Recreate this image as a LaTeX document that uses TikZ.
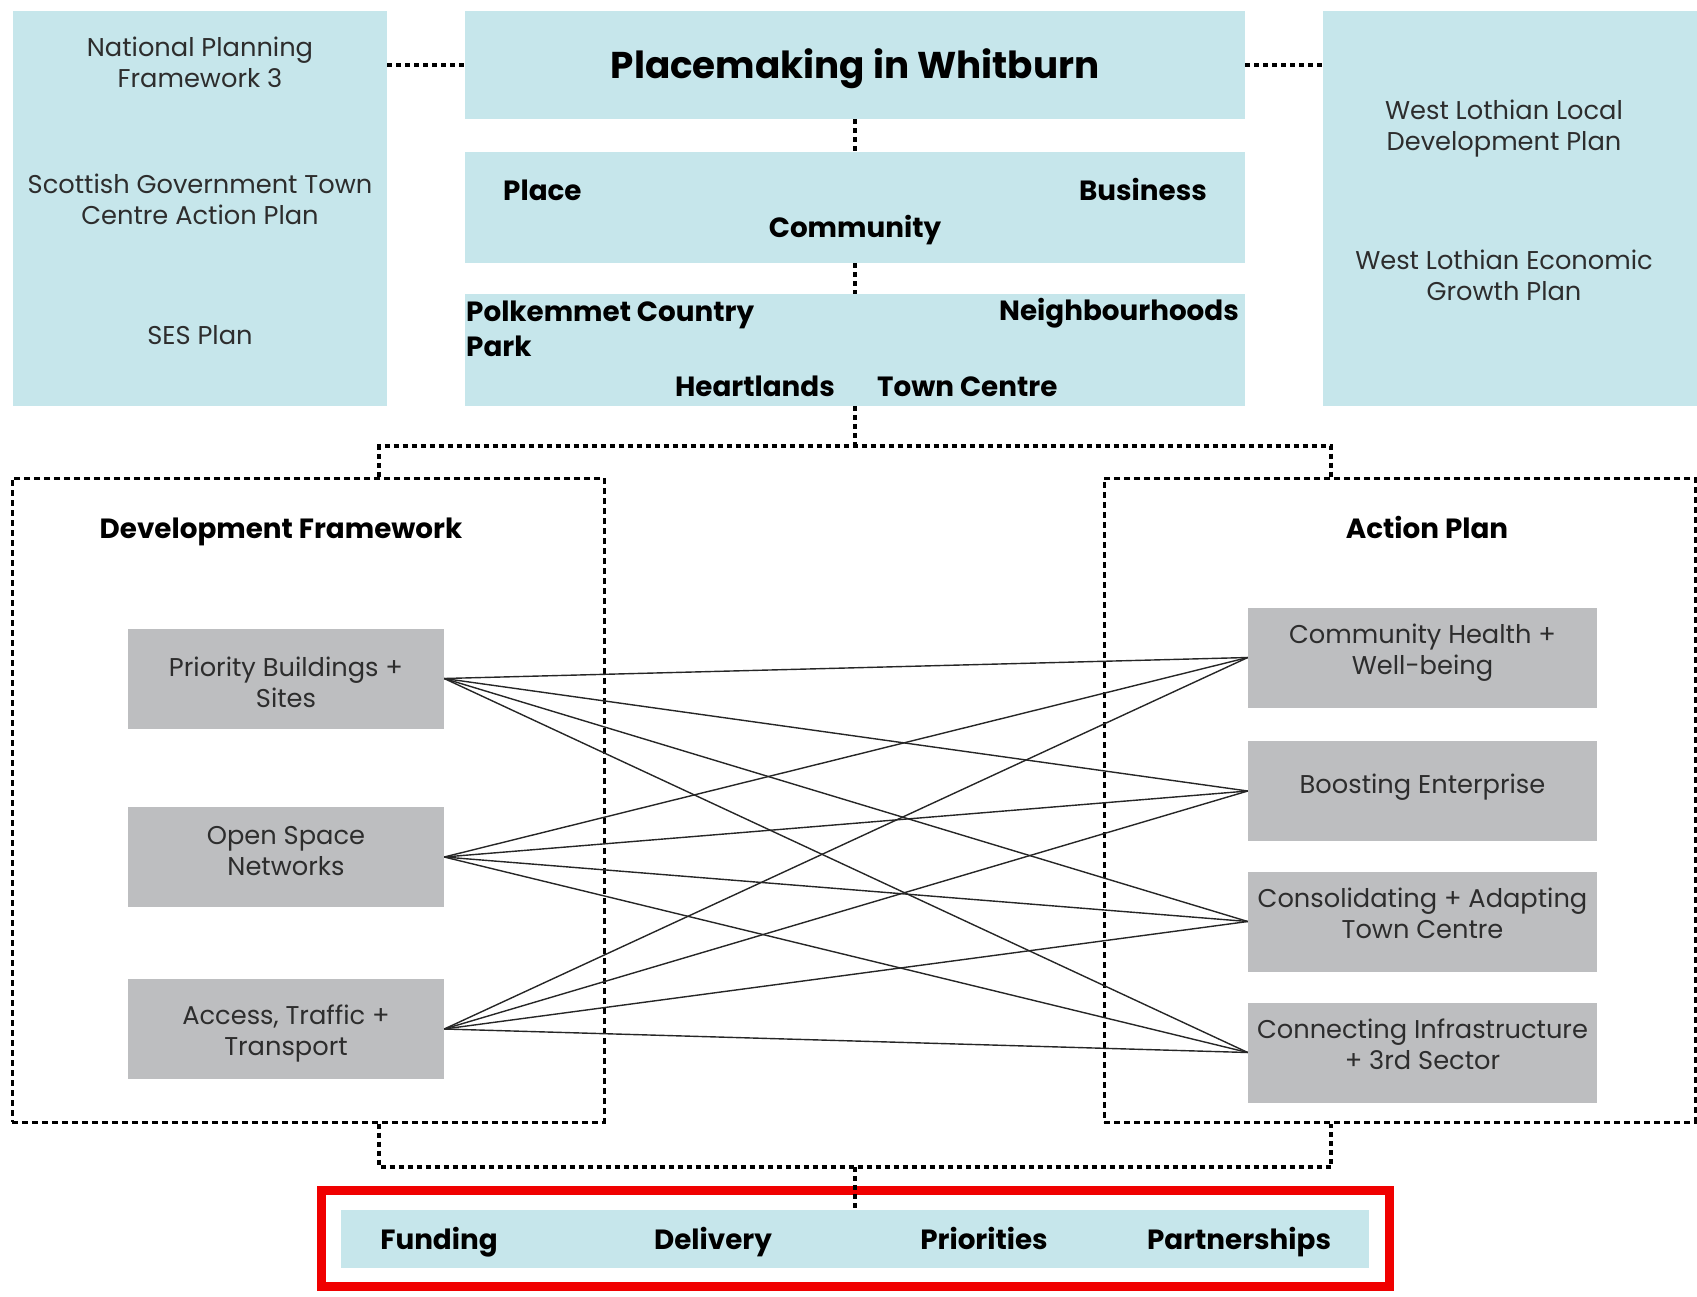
\documentclass[tikz,border=0pt]{standalone}
\usepackage{fontspec}
\setmainfont{Poppins}
\definecolor{pblue}{RGB}{198,230,235}
\definecolor{pgray}{RGB}{189,190,192}
\definecolor{txtgray}{RGB}{45,45,45}
\definecolor{pred}{RGB}{240,0,0}
\begin{document}
\begin{tikzpicture}[x=1pt,y=-1pt,
  bluebox/.style={fill=pblue, draw=none, inner sep=0pt},
  graybox/.style={fill=pgray, draw=none, inner sep=0pt, minimum width=316pt, minimum height=100pt},
  rgraybox/.style={graybox, minimum width=349pt},
  bodytxt/.style={align=center, text=txtgray, font=\fontsize{25.7}{31}\selectfont, inner sep=0pt},
  boldtxt/.style={text=black, font=\fontsize{27.8}{35}\selectfont\bfseries, inner sep=0pt, align=left, text height=20pt, text depth=6pt},
  frame/.style={draw=black, line width=3pt, dash pattern=on 6pt off 4pt, inner sep=0pt},
  conn/.style={draw=black, line width=3.2pt, dash pattern=on 5pt off 4pt},
  link/.style={draw=black!85, line width=1.4pt}
]
\useasboundingbox (0,0) rectangle (1697,1296);
% top blue boxes
\node[bluebox, minimum width=374pt, minimum height=395pt] (lbox) at (200,208.5) {};
\node[bluebox, minimum width=780pt, minimum height=108pt] (title) at (855,65) {};
\node[bluebox, minimum width=780pt, minimum height=111pt] (mid) at (855,207.5) {};
\node[bluebox, minimum width=780pt, minimum height=112pt] (low) at (855,350) {};
\node[bluebox, minimum width=374pt, minimum height=395pt] (rbox) at (1510,208.5) {};

% left box texts
\node[bodytxt] (npf) at (200,62) {National Planning\\Framework 3};
\node[bodytxt] (sgt) at (200,199) {Scottish Government Town\\Centre Action Plan};
\node[bodytxt] (ses) at (200,335) {SES Plan};
% right box texts
\node[bodytxt] (wll) at (1504,129) {West Lothian Local\\Development Plan};
\node[bodytxt] (wle) at (1504,275) {West Lothian Economic\\Growth Plan};

% title
\node[text=black, font=\fontsize{37.3}{42}\selectfont\bfseries, inner sep=0pt, text height=27pt, text depth=8pt] (ttl) at (855,69) {Placemaking in Whitburn};
% mid texts
\node[boldtxt, anchor=west] (place) at (503,193) {Place};
\node[boldtxt, anchor=east] (business) at (1207,193) {Business};
\node[boldtxt] (community) at (855,230) {Community};
% low texts
\node[boldtxt, anchor=west] (polk) at (466,349) {Polkemmet Country\\Park};
\node[boldtxt, anchor=east] (neigh) at (1239,313) {Neighbourhoods};
\node[boldtxt, anchor=east] (heart) at (835,389) {Heartlands};
\node[boldtxt, anchor=west] (town) at (877,389) {Town Centre};

% top connectors
\draw[conn] (lbox.east |- title.west) -- (title.west);
\draw[conn] (title.east) -- (rbox.west |- title.east);
\draw[conn] (title.south) -- (mid.north);
\draw[conn] (mid.south) -- (low.north);

% frames
\node[frame, minimum width=592pt, minimum height=644pt] (dfr) at (308,800) {};
\node[frame, minimum width=591pt, minimum height=644pt] (apr) at (1399.5,800) {};
\node[boldtxt] (dftitle) at (281,531) {Development Framework};
\node[boldtxt] (aptitle) at (1427,531) {Action Plan};

\coordinate (tj) at (855,446);
\coordinate (tl) at (379,446);
\coordinate (tr) at (1331,446);
\draw[conn] (low.south) -- (tj);
\draw[conn] (tl |- dfr.north) -- (tl) -- (tr) -- (tr |- apr.north);

\coordinate (bj) at (855,1167);
\coordinate (bl) at (379,1167);
\coordinate (br) at (1331,1167);
\draw[conn] (bl |- dfr.south) -- (bl) -- (br) -- (br |- apr.south);

% gray boxes
\node[graybox] (pb) at (286,678.5) {};
\node[graybox] (os) at (286,857) {};
\node[graybox] (at) at (286,1029) {};
\node[rgraybox] (ch) at (1422.5,657.5) {};
\node[rgraybox] (be) at (1422.5,791) {};
\node[rgraybox] (ca) at (1422.5,921.5) {};
\node[rgraybox] (ci) at (1422.5,1052.5) {};
\node[bodytxt, yshift=-4pt] (pbT) at (pb) {Priority Buildings +\\Sites};
\node[bodytxt, yshift=6pt] (osT) at (os) {Open Space\\Networks};
\node[bodytxt, yshift=-5pt] (atT) at (at) {Access, Traffic +\\Transport};
\node[bodytxt, yshift=5pt] (chT) at (ch) {Community Health +\\Well-being};
\node[bodytxt, yshift=4pt] (beT) at (be) {Boosting Enterprise};
\node[bodytxt, yshift=8pt] (caT) at (ca) {Consolidating + Adapting\\Town Centre};
\node[bodytxt, yshift=8pt] (ciT) at (ci) {Connecting Infrastructure\\+ 3rd Sector};

\foreach \a in {pb,os,at}{
  \foreach \b in {ch,be,ca,ci}{
    \draw[link] (\a.east) -- (\b.west);
  }
}

% bottom
\node[draw=pred, line width=9pt, minimum width=1068pt, minimum height=96pt, inner sep=0pt] (red) at (855,1238) {};
\node[bluebox, minimum width=1028pt, minimum height=58pt] (bot) at (855,1239) {};
\draw[conn] (bj) -- (bot.north);
\node[boldtxt] (fund) at (439,1242) {Funding};
\node[boldtxt] (deliv) at (713,1242) {Delivery};
\node[boldtxt] (prio) at (984,1242) {Priorities};
\node[boldtxt] (part) at (1239,1242) {Partnerships};
\end{tikzpicture}
\end{document}
